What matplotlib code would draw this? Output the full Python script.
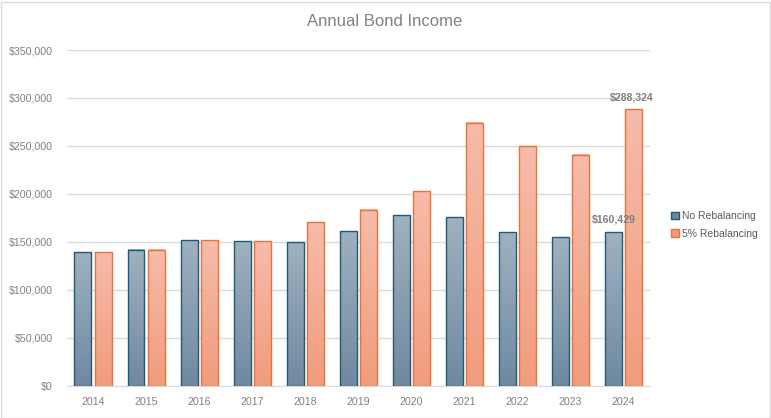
import numpy as np
import matplotlib
matplotlib.use('Agg')
import matplotlib.pyplot as plt
from matplotlib.colors import LinearSegmentedColormap
from matplotlib.patches import Rectangle, Patch
from matplotlib.ticker import FuncFormatter

plt.rcParams['font.family'] = ['Liberation Sans', 'DejaVu Sans']

years = ['2014', '2015', '2016', '2017', '2018', '2019', '2020', '2021', '2022', '2023', '2024']
no_rebal = [139000, 142000, 151500, 150400, 149400, 160800, 177500, 175400, 159800, 154600, 160429]
rebal_5 = [139000, 142000, 151500, 150400, 170200, 183700, 202800, 274400, 249400, 241000, 288324]

series = [
    ('No Rebalancing', no_rebal, -0.19, '#9fb1bf', '#7089a0', '#1f5a7a'),
    ('5% Rebalancing', rebal_5, 0.19, '#f6bcaa', '#f19c7d', '#e8733a'),
]

fig = plt.figure(figsize=(7.71, 4.18), dpi=100)
ax = fig.add_axes([66.5 / 771, 1 - 385.7 / 418, (650 - 66.5) / 771, (385.7 - 50) / 418])

# chart area border
fig.patches.append(Rectangle((0.5 / 771, 0.5 / 418), 769.5 / 771, 416 / 418,
                             transform=fig.transFigure, fill=False,
                             edgecolor='#d9d9d9', linewidth=1))

x = np.arange(len(years))
width = 0.32
grad = np.linspace(1, 0, 256).reshape(-1, 1)

for label, vals, off, top_c, bot_c, edge_c in series:
    cmap = LinearSegmentedColormap.from_list(label, [bot_c, top_c])
    for xi, v in zip(x, vals):
        x0 = xi + off - width / 2
        ax.imshow(grad, extent=[x0, x0 + width, 0, v], aspect='auto',
                  cmap=cmap, vmin=0, vmax=1, zorder=2, interpolation='bilinear')
    ax.bar(x + off, vals, width, facecolor='none', edgecolor=edge_c,
           linewidth=1.0, zorder=3)

ax.set_xlim(-0.5, len(years) - 0.5)
ax.set_ylim(0, 350000)
ax.set_yticks(np.arange(0, 350001, 50000))
ax.yaxis.set_major_formatter(FuncFormatter(lambda v, p: '${:,.0f}'.format(v)))
ax.set_xticks(x)
ax.set_xticklabels(years)

ax.grid(axis='y', color='#d9d9d9', linewidth=1, zorder=0)
ax.set_axisbelow(True)
for s in ['top', 'right', 'left']:
    ax.spines[s].set_visible(False)
ax.spines['bottom'].set_color('#d9d9d9')
ax.tick_params(axis='both', length=0, colors='#808080', labelsize=7.7)
ax.tick_params(axis='y', pad=10)
ax.tick_params(axis='x', pad=8)

# value labels on the last year
ax.annotate('${:,.0f}'.format(no_rebal[-1]), (x[-1] - 0.19, no_rebal[-1]),
            xytext=(0, 5), textcoords='offset points', ha='center', va='bottom',
            fontsize=7.6, fontweight='bold', color='#808080')
ax.annotate('${:,.0f}'.format(rebal_5[-1]), (x[-1] + 0.19, rebal_5[-1]),
            xytext=(-1, 5), textcoords='offset points', ha='center', va='bottom',
            fontsize=7.6, fontweight='bold', color='#808080')

fig.text(385 / 771, 1 - 22 / 418, 'Annual Bond Income', ha='center', va='center',
         fontsize=12, color='#808080')

handles = [Patch(facecolor=s[4], edgecolor=s[5], linewidth=1.0) for s in series]
fig.legend(handles, [s[0] for s in series], loc='center left',
           bbox_to_anchor=(662 / 771, 1 - 225 / 418), frameon=False,
           fontsize=7.5, labelcolor='#595959', handlelength=0.75, handleheight=0.75,
           handletextpad=0.25, labelspacing=0.75)

fig.savefig('out.png', dpi=100)
